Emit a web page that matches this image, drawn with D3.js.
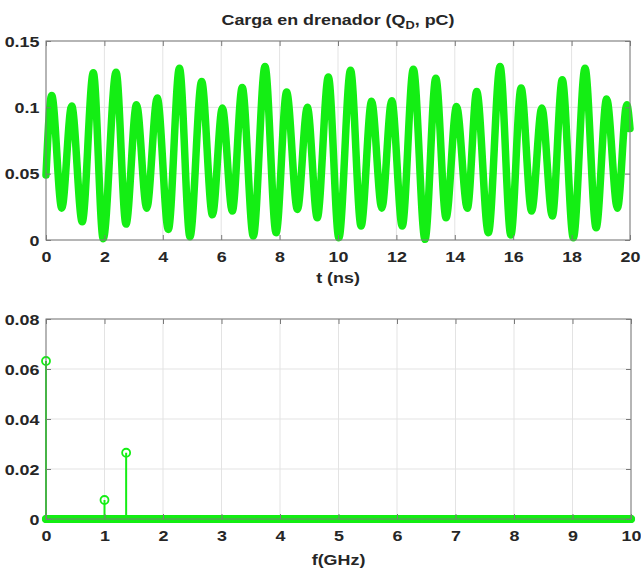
<!DOCTYPE html>
<html>
<head>
<meta charset="utf-8">
<script src="https://cdn.jsdelivr.net/npm/d3@7"></script>
<style>
  body { margin: 0; background: #fff; }
  svg { display: block; }
  text { font-family: "Liberation Sans", Arial, sans-serif; font-weight: bold; fill: #262626; }
</style>
</head>
<body>
<svg id="chart" width="641" height="568"></svg>
<script>
// Drain charge transient: successive turning points of Q_D (t in ns, Q in pC)
const qTime = [0, 0.195, 0.54, 0.88, 1.24, 1.62, 1.96, 2.40, 2.74, 3.10, 3.45, 3.81, 4.19, 4.57, 4.93,
  5.33, 5.70, 6.04, 6.38, 6.72, 7.10, 7.50, 7.88, 8.24, 8.61, 8.95, 9.29, 9.67, 10.03,
  10.43, 10.79, 11.15, 11.50, 11.84, 12.20, 12.58, 12.98, 13.35, 13.70, 14.06, 14.43, 14.75, 15.15,
  15.55, 15.92, 16.27, 16.63, 16.98, 17.34, 17.68, 18.06, 18.46, 18.84, 19.20, 19.57, 19.89, 20];
const qValue = [0.049, 0.109, 0.024, 0.101, 0.0137, 0.126, 0.001, 0.1265, 0.012, 0.102, 0.024, 0.107, 0.008, 0.1295, 0.0025,
  0.1195, 0.019, 0.0995, 0.0218, 0.115, 0.003, 0.1307, 0.0055, 0.1115, 0.023, 0.100, 0.0167, 0.1228, 0.0017,
  0.128, 0.0105, 0.1045, 0.024, 0.105, 0.0105, 0.1288, 0.0005, 0.122, 0.0167, 0.1007, 0.024, 0.112, 0.0055,
  0.1307, 0.00375, 0.1145, 0.0218, 0.0995, 0.018, 0.1208, 0.0017, 0.1295, 0.0092, 0.1063, 0.024, 0.102, 0.084];

// Spectrum: frequency grid (GHz) and the non-zero components
const binStep = 0.01;
const binFreq = d3.range(0, 10 + binStep / 2, binStep);
const peakFreq = [0, 1.0, 1.37];
const peakAmp = [0.0632, 0.0076, 0.0265];

// Tick values
const tTicks = d3.range(0, 21, 2);
const qTicks = [0, 0.05, 0.1, 0.15];
const fTicks = d3.range(0, 11, 1);
const aTicks = [0, 0.02, 0.04, 0.06, 0.08];

const green = "#14ee14";
const stretch = 1.28;   // horizontal text stretch
const svg = d3.select("#chart");

function panel(box, xs, ys, xTicks, yTicks) {
  const g = svg.append("g");
  // grid
  g.append("g").selectAll("line").data(xTicks).join("line")
    .attr("x1", d => xs(d)).attr("x2", d => xs(d))
    .attr("y1", box.top).attr("y2", box.bottom)
    .attr("stroke", "#e3e3e3").attr("stroke-width", 1);
  g.append("g").selectAll("line").data(yTicks).join("line")
    .attr("y1", d => ys(d)).attr("y2", d => ys(d))
    .attr("x1", box.left).attr("x2", box.right)
    .attr("stroke", "#e3e3e3").attr("stroke-width", 1);
  return g;
}

function frame(g, box, xs, ys, xTicks, yTicks, yFmt, xFmt) {
  // inward ticks on all four sides
  const bottom = g.append("g").attr("transform", `translate(0,${box.bottom})`)
    .call(d3.axisBottom(xs).tickValues(xTicks).tickSize(-5).tickSizeOuter(0).tickFormat(xFmt));
  const top = g.append("g").attr("transform", `translate(0,${box.top})`)
    .call(d3.axisTop(xs).tickValues(xTicks).tickSize(-5).tickSizeOuter(0).tickFormat(""));
  const left = g.append("g").attr("transform", `translate(${box.left},0)`)
    .call(d3.axisLeft(ys).tickValues(yTicks).tickSize(-5).tickSizeOuter(0).tickFormat(yFmt));
  const right = g.append("g").attr("transform", `translate(${box.right},0)`)
    .call(d3.axisRight(ys).tickValues(yTicks).tickSize(-5).tickSizeOuter(0).tickFormat(""));
  [bottom, top, left, right].forEach(a => {
    a.select(".domain").remove();
    a.selectAll(".tick line").attr("stroke", "#7a7a7a");
  });
  bottom.selectAll(".tick text")
    .attr("y", 22).attr("dy", null)
    .attr("font-size", 14).attr("font-family", null).attr("fill", null)
    .attr("transform", `scale(${stretch},1)`);
  left.selectAll(".tick text")
    .attr("x", -6.5 / stretch).attr("dy", "0.36em")
    .attr("font-size", 14).attr("font-family", null).attr("fill", null)
    .attr("transform", `scale(${stretch},1)`);
  g.append("rect")
    .attr("x", box.left).attr("y", box.top)
    .attr("width", box.right - box.left).attr("height", box.bottom - box.top)
    .attr("fill", "none").attr("stroke", "#7a7a7a").attr("stroke-width", 1);
}

function label(x, y, size) {
  return svg.append("text")
    .attr("transform", `translate(${x},${y}) scale(${stretch},1)`)
    .attr("text-anchor", "middle")
    .attr("font-size", size);
}

const fmtNum = d => d3.format("")(+d.toFixed(3));

// ---------- Top panel: Q_D(t) ----------
const boxA = { left: 46, right: 630, top: 41, bottom: 240 };
const xT = d3.scaleLinear().domain([0, 20]).range([boxA.left, boxA.right]);
const yQ = d3.scaleLinear().domain([0, 0.15]).range([boxA.bottom, boxA.top]);
const gA = panel(boxA, xT, yQ, tTicks, qTicks);

const qLine = d3.line()
  .x((d, i) => xT(qTime[i]))
  .y((d, i) => yQ(qValue[i]))
  .curve(d3.curveMonotoneX);
gA.append("path")
  .datum(qValue)
  .attr("d", qLine)
  .attr("fill", "none")
  .attr("stroke", green)
  .attr("stroke-width", 7.5)
  .attr("stroke-linecap", "round")
  .attr("stroke-linejoin", "round");

frame(gA, boxA, xT, yQ, tTicks, qTicks, fmtNum, d3.format("d"));

const title = label(338, 25, 14);
title.append("tspan").text("Carga en drenador (Q");
title.append("tspan").attr("font-size", 10).attr("dy", 4).text("D");
title.append("tspan").attr("dy", -4).text(", pC)");
label(338, 283, 14).text("t (ns)");

// ---------- Bottom panel: spectrum ----------
const boxB = { left: 46, right: 631, top: 319, bottom: 519 };
const xF = d3.scaleLinear().domain([0, 10]).range([boxB.left, boxB.right]);
const yA = d3.scaleLinear().domain([0, 0.08]).range([boxB.bottom, boxB.top]);
const gB = panel(boxB, xF, yA, fTicks, aTicks);

// zero-amplitude bins
gB.append("g").selectAll("circle").data(binFreq).join("circle")
  .attr("cx", d => xF(d)).attr("cy", yA(0)).attr("r", 3.2)
  .attr("fill", "none").attr("stroke", green).attr("stroke-width", 1.8);

// non-zero components as stems
const stems = gB.append("g").selectAll("g").data(peakFreq).join("g");
stems.append("line")
  .attr("x1", d => xF(d)).attr("x2", d => xF(d))
  .attr("y1", yA(0)).attr("y2", (d, i) => yA(peakAmp[i]))
  .attr("stroke", green).attr("stroke-width", 2);
stems.append("circle")
  .attr("cx", d => xF(d)).attr("cy", (d, i) => yA(peakAmp[i])).attr("r", 4)
  .attr("fill", "none").attr("stroke", green).attr("stroke-width", 1.8);

frame(gB, boxB, xF, yA, fTicks, aTicks, fmtNum, d3.format("d"));
label(338.5, 565, 14).text("f(GHz)");
</script>
</body>
</html>
